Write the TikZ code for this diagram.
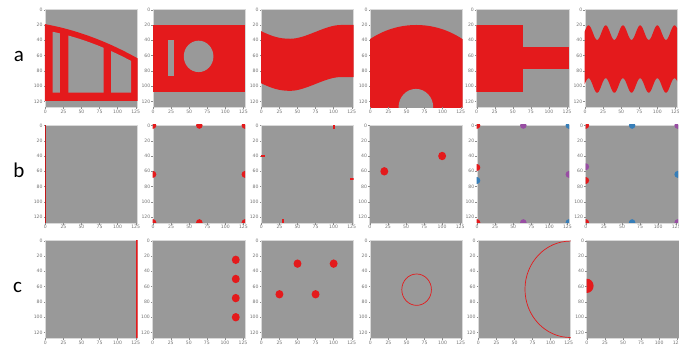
\documentclass[tikz,border=0pt]{standalone}
\usepackage{fontspec}
\newfontfamily\labelfont{Carlito}
\newfontfamily\tickfont{DejaVu Sans}
\definecolor{setred}{HTML}{E41A1C}
\definecolor{setblue}{HTML}{377EB8}
\definecolor{setpurple}{HTML}{984EA3}
\definecolor{setgray}{HTML}{999999}
\tikzset{
  tickmark/.style={black!45, line width=0.3pt},
  ticklabel/.style={font=\tickfont\fontsize{4.6}{5}\selectfont, text=black!55, inner sep=0.4pt},
  rowlabel/.style={font=\labelfont\fontsize{21}{24}\selectfont, anchor=base},
  ring/.style={draw=setred, line width=0.7pt},
}
% 一个 128x128 的子图：左上角 (#1,#2)，内容 #3
\newcommand{\panel}[3]{%
  \begin{scope}[xshift=#1pt+0.36pt, yshift=-#2pt-0.38pt, x=0.7227pt, y=-0.7656pt]
    \fill[setgray] (-0.5,-0.5) rectangle (127.5,127.5);
    \draw[black!15, line width=0.4pt] (-0.5,-0.5) rectangle (127.5,127.5);
    \begin{scope}
      \clip (-0.5,-0.5) rectangle (127.5,127.5);
      #3
    \end{scope}
    \foreach \t in {0,25,...,125} {
      \draw[tickmark] (\t,127.5) -- (\t,129.5);
      \node[ticklabel, anchor=north] at (\t,130) {\t};
    }
    \foreach \t in {0,20,...,120} {
      \draw[tickmark] (-0.5,\t) -- (-2.5,\t);
      \node[ticklabel, anchor=east] at (-3,\t) {\t};
    }
  \end{scope}}

\begin{document}
\begin{tikzpicture}[x=1pt, y=-1pt]
    \useasboundingbox (0,0) rectangle (679,347);

    % 行标签
    \node[rowlabel] (rowa) at (18.8,61.5) {a};
    \node[rowlabel] (rowb) at (18.8,177.3) {b};
    \node[rowlabel] (rowc) at (17.6,292.5) {c};

    % 第一行：几何形状
    \panel{45}{9.3}{
      \fill[setred] plot[domain=-0.5:127.5, samples=40] (\x,{19+0.17*\x+0.0014*\x*\x})
        -- (127.5,119) -- (-0.5,119) -- cycle;
      \fill[setgray] plot[domain=10:20, samples=10] (\x,{27+0.17*\x+0.0014*\x*\x}) -- (20,108.5) -- (10,108.5) -- cycle;
      \fill[setgray] plot[domain=32:80.5, samples=20] (\x,{27+0.17*\x+0.0014*\x*\x}) -- (80.5,108.5) -- (32,108.5) -- cycle;
      \fill[setgray] plot[domain=91:118.5, samples=20] (\x,{27+0.17*\x+0.0014*\x*\x}) -- (118.5,108.5) -- (91,108.5) -- cycle;
    }
    \panel{152.7}{9.3}{
      \fill[setred] (-0.5,19.5) rectangle (127.5,108);
      \fill[setgray] (20,40) rectangle (29.5,87);
      \fill[setgray] (63,61) circle (20.5);
    }
    \panel{261}{9.3}{
      \fill[setred] (-0.5,28) .. controls (15,35) and (25,38) .. (40,38)
        .. controls (62,38) and (88,20) .. (110,20) -- (127.5,20) -- (127.5,88) -- (110,88)
        .. controls (88,88) and (62,106) .. (40,106) .. controls (25,106) and (15,103) .. (-0.5,96) -- cycle;
    }
    \panel{370}{9.3}{
      \fill[setred] (63.5,140) circle (120);
      \fill[setgray] (63,127.5) circle (24);
    }
    \panel{476.3}{9.3}{
      \fill[setred] (-0.5,19.5) rectangle (63.5,107.5);
      \fill[setred] (63.5,48.5) rectangle (127.5,77.5);
    }
    \panel{584.7}{9.3}{
      \fill[setred] plot[domain=-0.5:127.5, samples=120] (\x,{30-9.5*cos(15.126*(\x-4.8))})
        -- plot[domain=127.5:-0.5, samples=120] (\x,{99-9.5*cos(15.126*(\x-4.8))}) -- cycle;
    }

    % 第二行：边界上的点
    \panel{45}{125}{
      \fill[setred!85!black] (-0.5,-0.5) rectangle (1.2,127.5);
    }
    \panel{152.7}{125}{
      \foreach \p in {(0,0),(64,0),(127,0),(0,64),(127,64),(0,127),(64,127),(127,127)}
        \fill[setred] \p circle (4.5);
    }
    \panel{261}{125}{
      \fill[setred] (98.5,-0.5) rectangle (101.5,4.5);
      \fill[setred] (-0.5,38.5) rectangle (4.5,41.5);
      \fill[setred] (122.5,68.5) rectangle (127.5,71.5);
      \fill[setred] (28.5,122.5) rectangle (31.5,127.5);
    }
    \panel{369.5}{125}{
      \fill[setred] (20,60) circle (5.5);
      \fill[setred] (100,40) circle (5.5);
    }
    \panel{476.7}{125}{
      \foreach \p in {(0,0),(0,55),(0,127)} \fill[setred] \p circle (4.5);
      \foreach \p in {(64,0),(127,64),(64,127)} \fill[setpurple] \p circle (4.5);
      \foreach \p in {(127,0),(0,72),(127,127)} \fill[setblue] \p circle (4.5);
    }
    \panel{585.5}{125}{
      \foreach \p in {(0,0),(0,72),(0,127)} \fill[setred] \p circle (4.5);
      \foreach \p in {(64,0),(127,64),(64,127)} \fill[setblue] \p circle (4.5);
      \foreach \p in {(127,0),(0,54),(127,127)} \fill[setpurple] \p circle (4.5);
    }

    % 第三行：内部的点与圆
    \panel{45}{240.3}{
      \fill[setred] (125.8,-0.5) rectangle (127.5,127.5);
    }
    \panel{152.3}{240.3}{
      \foreach \y in {25,50,75,100} \fill[setred] (115,\y) circle (5.5);
    }
    \panel{261}{240.3}{
      \foreach \p in {(50,30),(100,30),(25,70),(75,70)} \fill[setred] \p circle (5.5);
    }
    \panel{370}{240.3}{
      \draw[ring] (64,64) circle (20.5);
    }
    \panel{478}{240.3}{
      \draw[ring] (127.5,63.5) circle (63);
    }
    \panel{586.5}{240.3}{
      \fill[setred] (0,59) circle (9.3);
    }
\end{tikzpicture}
\end{document}
